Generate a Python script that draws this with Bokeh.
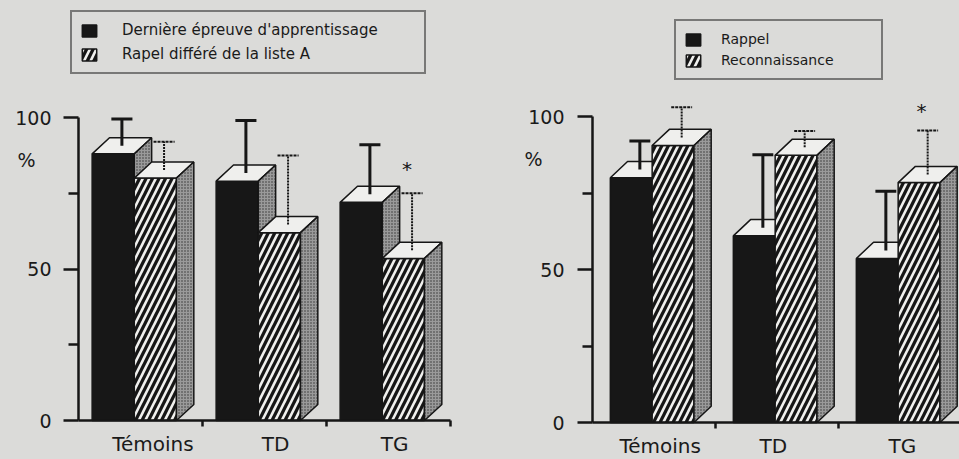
import numpy as np
from bokeh.plotting import figure
from bokeh.models import FixedTicker, Range1d, Legend, LegendItem, Label
from bokeh.layouts import row
from bokeh.embed import file_html
from bokeh.resources import INLINE
from bokeh.core.properties import value

# ---------------- data ----------------
categories = ["Témoins", "TD", "TG"]

left_series = ["Dernière épreuve d'apprentissage", "Rapel différé de la liste A"]
left_solid = [88, 79, 72]
left_solid_err = [11.5, 20, 19]
left_hatched = [80, 62, 53.5]
left_hatched_err = [12, 25.5, 21.5]
left_sig = ["", "", "*"]

right_series = ["Rappel", "Reconnaissance"]
right_solid = [80, 61, 53.6]
right_solid_err = [12, 26.5, 22]
right_hatched = [90.5, 87.3, 78.4]
right_hatched_err = [12.5, 8, 17]
right_sig = ["", "", "*"]

y_major = [0, 50, 100]
y_minor = [25, 75]
unit_label = "%"

# ---------------- style ----------------
PAPER = "#dbdbd9"
INK = "#161616"
TOPFILL = "#efefed"
SIDEFILL = "#9a9a9a"
FONT = "DejaVu Sans"

BW = 0.34     # bar front width
DX = 0.14     # 3D depth, x
DY = 5.3      # 3D depth, y
CAP = 0.085


def make_fig(width, x_range, y_range):
    p = figure(width=width, height=459, output_backend="svg", toolbar_location=None,
               x_range=Range1d(*x_range), y_range=Range1d(*y_range),
               min_border_left=0, min_border_right=0,
               min_border_top=0, min_border_bottom=0)
    p.background_fill_color = PAPER
    p.border_fill_color = PAPER
    p.outline_line_color = None
    p.grid.visible = False
    return p


def style_axes(p, standoff, x_end, label_pos):
    xa = p.xaxis[0]
    xa.fixed_location = 0
    xa.bounds = (0, x_end)
    tick_pos = [round(i + d, 2) for i, d in enumerate(label_pos)]
    xa.ticker = FixedTicker(ticks=tick_pos,
                            minor_ticks=[i + 1 for i in range(int(np.floor(x_end)))])
    xa.major_label_overrides = {t: c for t, c in zip(tick_pos, categories)}
    xa.major_tick_out = 0
    xa.major_tick_in = 0
    xa.minor_tick_out = 6
    xa.minor_tick_in = 0
    xa.minor_tick_line_width = 2.5
    xa.minor_tick_line_color = INK
    xa.axis_line_width = 2.5
    xa.axis_line_color = INK
    xa.major_label_text_font = FONT
    xa.major_label_text_font_size = "20px"
    xa.major_label_text_color = "#1a1a1a"
    xa.major_label_standoff = 5

    ya = p.yaxis[0]
    ya.fixed_location = 0
    ya.ticker = FixedTicker(ticks=y_major, minor_ticks=y_minor)
    ya.bounds = (0, 100)
    ya.axis_line_width = 2.5
    ya.axis_line_color = INK
    ya.major_tick_out = 15
    ya.major_tick_in = 0
    ya.minor_tick_out = 10
    ya.minor_tick_in = 0
    ya.major_tick_line_width = 2.5
    ya.minor_tick_line_width = 2.5
    ya.major_tick_line_color = INK
    ya.minor_tick_line_color = INK
    ya.major_label_text_font = FONT
    ya.major_label_text_font_size = "19px"
    ya.major_label_text_color = "#1a1a1a"
    ya.major_label_standoff = standoff


def draw_bars(p, x_gap, solid, solid_err, hatched, hatched_err, sig, star_dx, star_dy):
    starts = np.arange(len(categories), dtype=float)
    renderers = []
    err_info = []
    for k, (vals, errs) in enumerate([(solid, solid_err), (hatched, hatched_err)]):
        v = np.array(vals, dtype=float)
        e = np.array(errs, dtype=float)
        x0 = starts + x_gap + k * BW
        x1 = x0 + BW
        if k == 0:
            front = p.quad(left=x0, right=x1, bottom=0, top=v,
                           fill_color="#171717", line_color=INK, line_width=1.5)
        else:
            front = p.quad(left=x0, right=x1, bottom=0, top=v,
                           fill_color="#161616", hatch_pattern="/", hatch_color="#f0f0ee",
                           hatch_scale=13, hatch_weight=2.6,
                           line_color=INK, line_width=1.5)
        renderers.append(front)
        top_xs = [[a, b, b + DX, a + DX] for a, b in zip(x0, x1)]
        top_ys = [[h, h, h + DY, h + DY] for h in v]
        p.patches(top_xs, top_ys, fill_color=TOPFILL, line_color=INK, line_width=1.5)
        side_xs = [[b, b + DX, b + DX, b] for b in x1]
        side_ys = [[0, DY, h + DY, h] for h in v]
        p.patches(side_xs, side_ys, fill_color=SIDEFILL, hatch_pattern=".",
                  hatch_color="#333333", hatch_scale=3, hatch_weight=1.2,
                  line_color=INK, line_width=1.5)
        ex = (x0 + x1) / 2 + DX / 2
        err_info.append((ex, v + DY / 2, v + e))

    # error bars
    ex, yb, yt = err_info[0]
    p.segment(ex, yb, ex, yt, line_color=INK, line_width=3)
    p.segment(ex - CAP, yt, ex + CAP, yt, line_color=INK, line_width=3)
    ex, yb, yt = err_info[1]
    p.segment(ex, yb, ex, yt, line_color=INK, line_width=2, line_dash="2 1")
    p.segment(ex - CAP, yt, ex + CAP, yt, line_color=INK, line_width=2, line_dash="3 1")
    p.text(x=ex + star_dx, y=yt + star_dy, text=sig, text_font=value(FONT),
           text_font_size="20px", text_align="center", text_baseline="middle",
           text_color=INK)
    return renderers


def add_legend(p, renderers, labels, loc, label_width, spacing, font_size, standoff):
    items = [LegendItem(label=labels[0], renderers=[renderers[0]]),
             LegendItem(label=labels[1], renderers=[renderers[1]])]
    leg = Legend(items=items, location=loc, orientation="vertical",
                 border_line_color=INK, border_line_width=2.5,
                 background_fill_color=PAPER, background_fill_alpha=1,
                 label_text_font=FONT, label_text_font_size=font_size,
                 label_text_color="#1a1a1a", glyph_width=18, glyph_height=15,
                 label_width=label_width, label_height=20, spacing=spacing,
                 padding=8, margin=0, label_standoff=standoff)
    p.add_layout(leg)


def add_unit(p, off):
    p.add_layout(Label(x=0, y=86, x_offset=off, text=unit_label, text_font=FONT,
                       text_font_size="19px", text_align="center",
                       text_baseline="middle", text_color="#1a1a1a"))


# left chart: y axis at page x=78, 124 px per category; 0 at y=420, 3.03 px/unit
p1 = make_fig(480, (-78 / 124, 402 / 124), (-39 / 3.03, 420 / 3.03))
style_axes(p1, 12, 3, [0.6, 0.59, 0.55])
r1 = draw_bars(p1, 0.11, left_solid, left_solid_err, left_hatched, left_hatched_err,
               left_sig, -0.04, 8)
add_legend(p1, r1, left_series, (70, 385), 294, 4, "15px", 24)
add_unit(p1, -52)

# right chart: y axis at local x=112, 123 px per category; 0 at y=422, 3.06 px/unit
p2 = make_fig(479, (-112 / 123, 367 / 123), (-37 / 3.06, 422 / 3.06))
style_axes(p2, 13, 367 / 123, [0.55, 0.47, 0.52])
r2 = draw_bars(p2, 0.145, right_solid, right_solid_err, right_hatched, right_hatched_err,
               right_sig, -0.05, 6.5)
add_legend(p2, r2, right_series, (194, 379), 152, 1, "14px", 19)
add_unit(p2, -59)

layout = row(p1, p2)
html = file_html(layout, INLINE, "chart")
html = html.replace("</head>", "<style>html, body { background: %s; }</style></head>" % PAPER, 1)
open("out.html", "w").write(html)
